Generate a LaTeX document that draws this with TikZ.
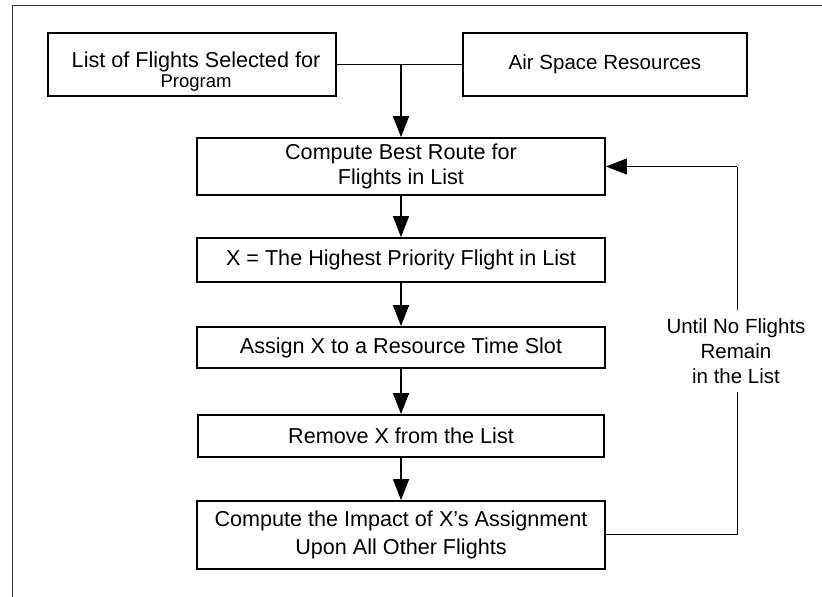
\documentclass[tikz,border=0pt]{standalone}
\usepackage{fontspec}
\setmainfont{Liberation Sans}
\usetikzlibrary{arrows.meta}
\begin{document}
\begin{tikzpicture}[x=1pt,y=-1pt,
  box/.style={draw=black,line width=1.8pt,fill=white,inner sep=0pt,align=center,
    font=\fontsize{21.6}{25}\selectfont},
  flow/.style={line width=1.5pt,-{Triangle[length=21pt,width=16pt]}},
  loopline/.style={line width=1pt},
  frame/.style={line width=1pt,draw=black!80}]
\useasboundingbox (0,0) rectangle (822,597);
\draw[frame] (12,597) -- (12,5) -- (822,5);
\node[box,minimum width=288pt,minimum height=63pt] (lst) at (192,64.5) {};
\node[align=center,inner sep=0pt,font=\fontsize{21.6}{20.5}\selectfont] (lsttext) at (196,71.5)
  {List of Flights Selected for\\{\fontsize{18.5}{20.5}\selectfont Program}};
\node[box,minimum width=284pt,minimum height=63pt,font=\fontsize{20.5}{25}\selectfont] (air) at (605,64.5)
  {Air Space Resources};
\node[box,minimum width=408pt,minimum height=57pt] (best) at (401,166.5)
  {Compute Best Route for\\Flights in List};
\node[box,minimum width=408pt,minimum height=44pt] (high) at (401,260)
  {X = The Highest Priority Flight in List};
\node[box,minimum width=408pt,minimum height=41pt] (assign) at (401,347.5)
  {Assign X to a Resource Time Slot};
\node[box,minimum width=406pt,minimum height=42pt] (remove) at (401,436)
  {Remove X from the List};
\node[box,minimum width=408pt,minimum height=68pt,font=\fontsize{21.6}{27.5}\selectfont] (impact) at (401,535)
  {Compute the Impact of X's Assignment\\Upon All Other Flights};
\node[align=center,inner sep=0pt,font=\fontsize{20.5}{25}\selectfont] (until) at (736,351)
  {Until No Flights\\Remain\\in the List};
\coordinate (join) at (401,64.5);
\coordinate (lowc) at (737,534);
\coordinate (lowt) at (737,392);
\coordinate (upb) at (737,310);
\coordinate (upc) at (737,166.5);
\draw[line width=1.8pt] (lst.east) -- (air.west);
\draw[flow] (join) -- (best.north);
\draw[flow] (best) -- (high);
\draw[flow] (high) -- (assign);
\draw[flow] (assign) -- (remove);
\draw[flow] (remove) -- (impact);
\draw[loopline] (impact.east |- lowc) -- (lowc) -- (lowt);
\draw[loopline] (upb) -- (upc);
\draw[flow,line width=1pt] (upc) -- (best.east);
\end{tikzpicture}
\end{document}
